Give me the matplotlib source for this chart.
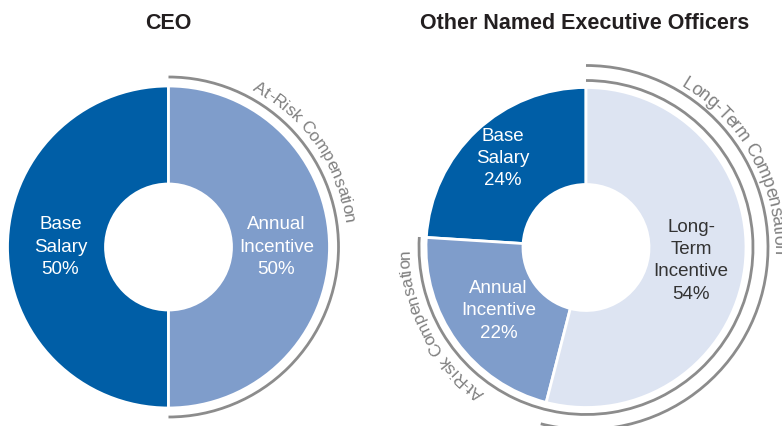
import numpy as np
import matplotlib.pyplot as plt
from matplotlib.patches import Arc
from matplotlib.font_manager import FontProperties

plt.rcParams['font.family'] = ['Liberation Sans', 'DejaVu Sans']

# data
ceo_labels = ['Base\nSalary', 'Annual\nIncentive']
ceo_values = [50, 50]
neo_labels = ['Base\nSalary', 'Annual\nIncentive', 'Long-\nTerm\nIncentive']
neo_values = [24, 22, 54]

colors = ['#005ea6', '#7f9dcb', '#dde4f2']
text_colors = ['white', 'white', '#333333']
arc_color = '#8c8c8c'
arc_text_color = '#808080'

W, H = 782, 426
fig = plt.figure(figsize=(W / 100, H / 100), dpi=100)
ax = fig.add_axes([0, 0, 1, 1])


def donut(center, values, labels, R=161, r_hole=63, label_r=None):
    ax.pie(values, startangle=90, counterclock=True, center=center, radius=R,
           colors=colors[:len(values)],
           wedgeprops=dict(width=R - r_hole, edgecolor='white', linewidth=2))
    cum = np.concatenate([[0], np.cumsum(values)]) / sum(values) * 360 + 90
    for i, (lab, v) in enumerate(zip(labels, values)):
        mid = np.deg2rad((cum[i] + cum[i + 1]) / 2)
        lr = label_r[i] if label_r else 108
        ax.text(center[0] + lr * np.cos(mid), center[1] + lr * np.sin(mid),
                f'{lab}\n{v}%', ha='center', va='center', fontsize=13.5,
                color=text_colors[i], linespacing=1.4)
    return cum


def arc_text(center, radius, mid_angle, s, size=12.4):
    # lay text clockwise along a circle, tops facing outwards
    renderer = fig.canvas.get_renderer()
    fp = FontProperties(family=['Liberation Sans', 'DejaVu Sans'], size=size)
    def width(t):
        return renderer.get_text_width_height_descent(t.replace(' ', '\u00a0'), fp, ismath=False)[0] if t else 0.0
    total = width(s)
    for i, ch in enumerate(s):
        c = (width(s[:i]) + width(s[:i + 1])) / 2
        ang = mid_angle - np.rad2deg((c - total / 2) / radius)
        a = np.deg2rad(ang)
        ax.text(center[0] + radius * np.cos(a), center[1] + radius * np.sin(a), ch,
                rotation=ang - 90, rotation_mode='anchor', ha='center', va='center',
                fontproperties=fp, color=arc_text_color)


ceo_c = (168.5, H - 247)
neo_c = (586, H - 247.5)

donut(ceo_c, ceo_values, ceo_labels, label_r=[108, 108])
cum = donut(neo_c, neo_values, neo_labels, R=160, label_r=[122, 108, 106])

# CEO at-risk arc
ax.add_patch(Arc(ceo_c, 2 * 170, 2 * 170, theta1=-90, theta2=90, color=arc_color, lw=2))
arc_text(ceo_c, 182, 34.7, 'At-Risk Compensation')

# NEO arcs: at-risk covers annual + long-term, long-term covers LTI only
ax.add_patch(Arc(neo_c, 2 * 167, 2 * 167, theta1=cum[1], theta2=cum[3], color=arc_color, lw=2))
ax.add_patch(Arc(neo_c, 2 * 182, 2 * 182, theta1=cum[2] - 360, theta2=cum[3] - 360,
                 color=arc_color, lw=2))
arc_text(neo_c, 192, 28.7, 'Long-Term Compensation', size=13)
arc_text(neo_c, 181, 207.7, 'At-Risk Compensation')

ax.text(ceo_c[0], H - 23.5, 'CEO', ha='center', va='center', fontsize=15.5,
        fontweight='bold', color='#231f20')
ax.text(585, H - 23.5, 'Other Named Executive Officers', ha='center', va='center',
        fontsize=15.5, fontweight='bold', color='#231f20')

ax.set_xlim(0, W)
ax.set_ylim(0, H)
ax.set_aspect('equal')
ax.axis('off')

fig.savefig('out.png', dpi=100)
